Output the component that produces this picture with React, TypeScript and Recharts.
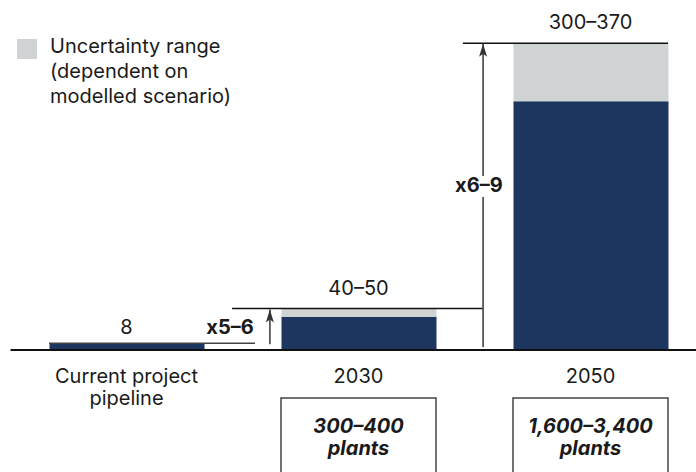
import React from "react";
import {
  BarChart,
  Bar,
  XAxis,
  YAxis,
  ReferenceLine,
  ReferenceDot,
} from "recharts";

const categories = ["Current project pipeline", "2030", "2050"];
const categoryLines = [["Current project", "pipeline"], ["2030"], ["2050"]];
const baseValues = [8, 40, 300];
const rangeValues = [0, 10, 70];
const valueLabels = ["8", "40–50", "300–370"];
const plantLabels = [[], ["300–400", "plants"], ["1,600–3,400", "plants"]];
const growthLabels = ["x5–6", "x6–9"];

const NAVY = "#1c365f";
const GREY = "#d0d3d4";
const INK = "#1a1a1a";
const FONT = "Inter, 'Noto Sans', sans-serif";

const data = categories.map((name, i) => ({
  name,
  pos: i + 0.5,
  base: baseValues[i],
  range: rangeValues[i],
}));

function CategoryTick(props: any) {
  const { x, y, payload } = props;
  const i = payload.index;
  const lines = categoryLines[i];
  const plants = plantLabels[i];
  return (
    <g fontFamily={FONT} fill={INK}>
      {lines.map((l, k) => (
        <text key={k} x={x} y={y + 33 + k * 22} textAnchor="middle" fontSize={20}>
          {l}
        </text>
      ))}
      {plants.length > 0 && (
        <g>
          <rect x={x - 77.5} y={y + 48} width={155} height={90} fill="none" stroke="#444" strokeWidth={1.5} />
          {plants.map((l, k) => (
            <text
              key={k}
              x={x}
              y={y + 83 + k * 22}
              textAnchor="middle"
              fontSize={20}
              fontWeight={700}
              fontStyle="italic"
            >
              {l}
            </text>
          ))}
        </g>
      )}
    </g>
  );
}

function Arrow(props: any) {
  const { x1, y1, x2, y2, head } = props;
  const top = Math.min(y1, y2);
  const bottom = Math.max(y1, y2);
  return (
    <g>
      <line x1={x1} y1={bottom} x2={x2} y2={top} stroke="#555" strokeWidth={1.8} />
      {head && (
        <polygon
          points={`${x1},${top} ${x1 - 4},${top + 13} ${x1},${top + 10} ${x1 + 4},${top + 13}`}
          fill="#333"
        />
      )}
    </g>
  );
}

function TextLabel(props: any) {
  const { viewBox, value, bold, dy } = props;
  const cx = viewBox.x + (viewBox.width || 0) / 2;
  const cy = viewBox.y + (viewBox.height || 0) / 2;
  return (
    <text
      x={cx}
      y={cy + dy}
      textAnchor="middle"
      fontSize={20}
      fontWeight={bold ? 700 : 400}
      fontFamily={FONT}
      fill={INK}
    >
      {value}
    </text>
  );
}

export default function App() {
  return (
    <div style={{ position: "absolute", left: 0, top: 0, width: 696, height: 472, background: "#fff" }}>
      <BarChart
        width={696}
        height={472}
        data={data}
        margin={{ top: 43.3, right: -10.5, bottom: 0, left: 10.5 }}
        barSize={155}
      >
        <XAxis
          dataKey="name"
          height={122}
          interval={0}
          tickLine={false}
          tickSize={0}
          tickMargin={0}
          axisLine={{ stroke: "#111", strokeWidth: 2 }}
          tick={<CategoryTick />}
        />
        <XAxis xAxisId="n" dataKey="pos" type="number" domain={[0, 3]} hide allowDataOverflow />
        <YAxis hide domain={[0, 370]} allowDataOverflow />
        <Bar dataKey="base" stackId="a" fill={NAVY} isAnimationActive={false} />
        <Bar dataKey="range" stackId="a" fill={GREY} isAnimationActive={false} />

        {/* value labels on top of each stack */}
        {categories.map((c, i) => (
          <ReferenceDot
            key={c}
            x={c}
            y={baseValues[i] + rangeValues[i]}
            r={0}
            stroke="none"
            label={<TextLabel value={valueLabels[i]} dy={i === 0 ? -9 : -14} />}
          />
        ))}

        {/* leader lines */}
        <ReferenceLine xAxisId="n" segment={[{ x: 0.166, y: 8 }, { x: 1.054, y: 8 }]} stroke="#444" strokeWidth={1.5} />
        <ReferenceLine xAxisId="n" segment={[{ x: 0.955, y: 50 }, { x: 2.037, y: 50 }]} stroke="#111" strokeWidth={1.5} />
        <ReferenceLine xAxisId="n" segment={[{ x: 1.95, y: 370 }, { x: 2.834, y: 370 }]} stroke="#111" strokeWidth={1.5} />

        {/* growth arrows */}
        <ReferenceLine
          xAxisId="n"
          segment={[{ x: 1.118, y: 7 }, { x: 1.118, y: 49 }]}
          shape={(p: any) => <Arrow {...p} head />}
        />
        <ReferenceLine
          xAxisId="n"
          segment={[{ x: 2.037, y: 3.6 }, { x: 2.037, y: 184.6 }]}
          shape={(p: any) => <Arrow {...p} />}
        />
        <ReferenceLine
          xAxisId="n"
          segment={[{ x: 2.037, y: 210 }, { x: 2.037, y: 369.5 }]}
          shape={(p: any) => <Arrow {...p} head />}
        />
        <ReferenceDot
          xAxisId="n"
          x={0.946}
          y={27.7}
          r={0}
          stroke="none"
          label={<TextLabel value={growthLabels[0]} bold dy={7} />}
        />
        <ReferenceDot
          xAxisId="n"
          x={2.019}
          y={199}
          r={0}
          stroke="none"
          label={<TextLabel value={growthLabels[1]} bold dy={7} />}
        />
      </BarChart>

      <div style={{ position: "absolute", left: 17, top: 39, width: 20, height: 20, background: GREY }} />
      <div
        style={{
          position: "absolute",
          left: 50,
          top: 34,
          fontFamily: FONT,
          fontSize: 20,
          lineHeight: "25px",
          color: INK,
        }}
      >
        Uncertainty range
        <br />
        (dependent on
        <br />
        modelled scenario)
      </div>
    </div>
  );
}
